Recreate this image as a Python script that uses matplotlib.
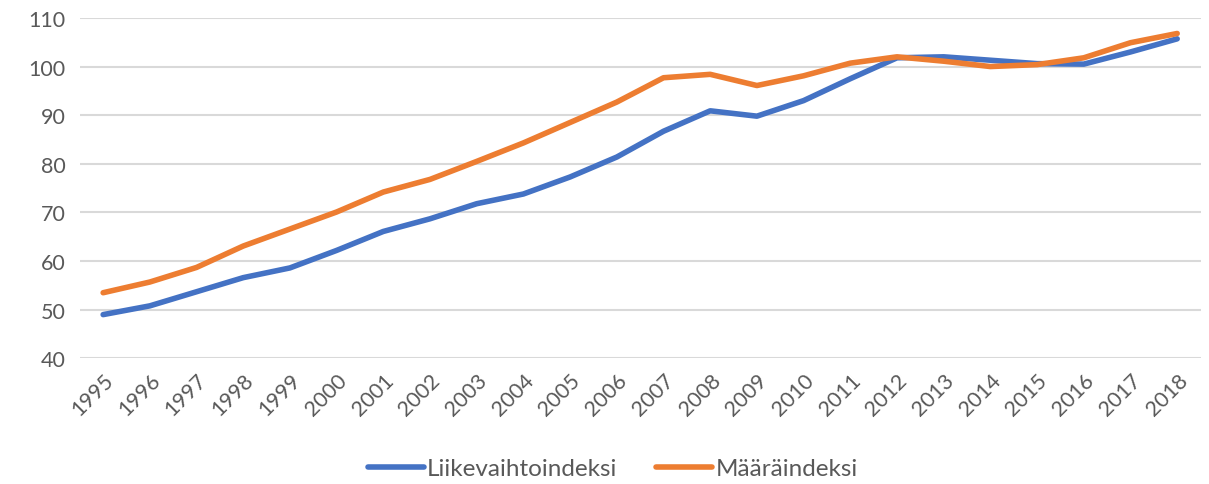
import matplotlib

matplotlib.use("Agg")

import matplotlib.pyplot as plt

# Vuodet ja indeksit (2015 = 100), luettu kuvasta
years = [str(y) for y in range(1995, 2019)]
liikevaihto = [49.0, 50.8, 53.7, 56.6, 58.6, 62.2, 66.1, 68.7, 71.8, 73.8, 77.3, 81.4,
               86.7, 90.9, 89.8, 93.0, 97.5, 101.8, 102.0, 101.3, 100.6, 100.5, 103.0, 105.7]
maara = [53.5, 55.7, 58.7, 63.1, 66.6, 70.1, 74.2, 76.8, 80.5, 84.3, 88.5, 92.7,
         97.7, 98.4, 96.1, 98.1, 100.7, 102.0, 101.1, 100.0, 100.4, 101.8, 104.9, 106.8]
y_ticks = [40, 50, 60, 70, 80, 90, 100, 110]

BLUE = "#4472C4"
ORANGE = "#ED7D31"
TEXT = "#595959"
GRID = "#D9D9D9"

plt.rcParams["font.family"] = ["Lato", "DejaVu Sans"]

fig = plt.figure(figsize=(12.09, 4.85), dpi=100)
ax = fig.add_axes([0.066, 0.259, 0.927, 0.702])

x = list(range(len(years)))
ax.plot(x, liikevaihto, color=BLUE, linewidth=4, solid_capstyle="round",
        label="Liikevaihtoindeksi")
ax.plot(x, maara, color=ORANGE, linewidth=4, solid_capstyle="round",
        label="Määräindeksi")

ax.set_xlim(-0.5, len(years) - 0.5)
ax.set_ylim(40, 110)
ax.set_yticks(y_ticks)
ax.set_xticks(x)
ax.set_xticklabels(years, rotation=45, ha="right", rotation_mode="anchor")
ax.grid(axis="y", color=GRID, linewidth=1.5)
ax.set_axisbelow(True)
for s in ax.spines.values():
    s.set_visible(False)
ax.tick_params(axis="both", length=0, colors=TEXT, labelsize=15.5)
ax.tick_params(axis="y", pad=10)
ax.tick_params(axis="x", pad=8)

fig.legend(loc="center", bbox_to_anchor=(0.507, 0.031), ncol=2, frameon=False,
           fontsize=17.5, labelcolor=TEXT, handlelength=2.3, columnspacing=1.6,
           handletextpad=0.15)

fig.savefig("out.png", dpi=100)
